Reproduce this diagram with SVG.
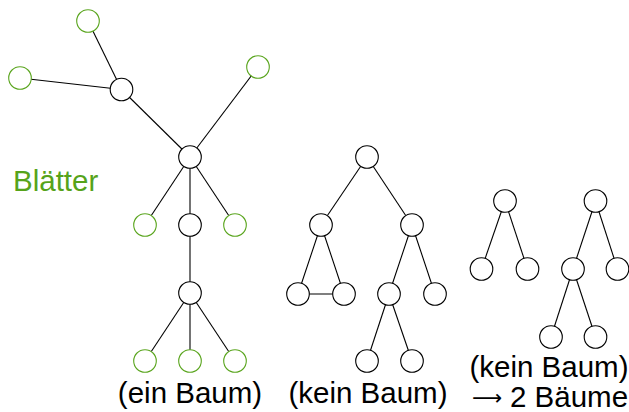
<svg xmlns="http://www.w3.org/2000/svg" width="629" height="412" viewBox="0 0 629 412">
<style>
.e{stroke:#000;stroke-width:1.1;fill:none}
.n{fill:#fff;stroke:#000;stroke-width:1.1}
.l{fill:#fff;stroke:#5aa51e;stroke-width:1.1}
.t{font-family:"Liberation Sans",Arial,sans-serif;font-size:29.5px;fill:#000}
.g{fill:#56a31a}
.a{font-family:"DejaVu Sans",sans-serif;font-size:21px}
</style>
<rect width="629" height="412" fill="#fff"/>
<g id="connectors">
<line class="e" x1="88" y1="21" x2="121.5" y2="89.5"/>
<line class="e" x1="20" y1="78" x2="121.5" y2="89.5"/>
<line class="e" x1="121.5" y1="89.5" x2="190" y2="157"/>
<line class="e" x1="258" y1="67" x2="190" y2="157"/>
<line class="e" x1="190" y1="157" x2="145" y2="225"/>
<line class="e" x1="190" y1="157" x2="190" y2="225"/>
<line class="e" x1="190" y1="157" x2="235" y2="225"/>
<line class="e" x1="190" y1="225" x2="190" y2="293"/>
<line class="e" x1="190" y1="293" x2="145" y2="361"/>
<line class="e" x1="190" y1="293" x2="190" y2="361"/>
<line class="e" x1="190" y1="293" x2="235" y2="361"/>
<line class="e" x1="367" y1="157" x2="321" y2="225"/>
<line class="e" x1="367" y1="157" x2="412" y2="225"/>
<line class="e" x1="321" y1="225" x2="298" y2="294"/>
<line class="e" x1="321" y1="225" x2="344" y2="294"/>
<line class="e" x1="298" y1="294" x2="344" y2="294"/>
<line class="e" x1="412" y1="225" x2="389" y2="294"/>
<line class="e" x1="412" y1="225" x2="435" y2="294"/>
<line class="e" x1="389" y1="294" x2="367" y2="361"/>
<line class="e" x1="389" y1="294" x2="412" y2="361"/>
<line class="e" x1="505" y1="201" x2="481.5" y2="269"/>
<line class="e" x1="505" y1="201" x2="527.5" y2="269"/>
<line class="e" x1="595.5" y1="201" x2="573" y2="269"/>
<line class="e" x1="595.5" y1="201" x2="617.5" y2="269"/>
<line class="e" x1="573" y1="269" x2="551" y2="337"/>
<line class="e" x1="573" y1="269" x2="595.5" y2="337"/>
</g>
<g id="t1-leaf-top"><circle class="l" cx="88" cy="21" r="11.3"/></g>
<g id="t1-leaf-left"><circle class="l" cx="20" cy="78" r="11.3"/></g>
<g id="t1-n1"><circle class="n" cx="121.5" cy="89.5" r="11.3"/></g>
<g id="t1-leaf-right"><circle class="l" cx="258" cy="67" r="11.3"/></g>
<g id="t1-n2"><circle class="n" cx="190" cy="157" r="11.3"/></g>
<g id="t1-leaf-a"><circle class="l" cx="145" cy="225" r="11.3"/></g>
<g id="t1-n3"><circle class="n" cx="190" cy="225" r="11.3"/></g>
<g id="t1-leaf-b"><circle class="l" cx="235" cy="225" r="11.3"/></g>
<g id="t1-n4"><circle class="n" cx="190" cy="293" r="11.3"/></g>
<g id="t1-leaf-c"><circle class="l" cx="145" cy="361" r="11.3"/></g>
<g id="t1-leaf-d"><circle class="l" cx="190" cy="361" r="11.3"/></g>
<g id="t1-leaf-e"><circle class="l" cx="235" cy="361" r="11.3"/></g>
<g id="t2-root"><circle class="n" cx="367" cy="157" r="11.3"/></g>
<g id="t2-l"><circle class="n" cx="321" cy="225" r="11.3"/></g>
<g id="t2-r"><circle class="n" cx="412" cy="225" r="11.3"/></g>
<g id="t2-ll"><circle class="n" cx="298" cy="294" r="11.3"/></g>
<g id="t2-lr"><circle class="n" cx="344" cy="294" r="11.3"/></g>
<g id="t2-rl"><circle class="n" cx="389" cy="294" r="11.3"/></g>
<g id="t2-rr"><circle class="n" cx="435" cy="294" r="11.3"/></g>
<g id="t2-rll"><circle class="n" cx="367" cy="361" r="11.3"/></g>
<g id="t2-rlr"><circle class="n" cx="412" cy="361" r="11.3"/></g>
<g id="t3-a"><circle class="n" cx="505" cy="201" r="11.3"/></g>
<g id="t3-a1"><circle class="n" cx="481.5" cy="269" r="11.3"/></g>
<g id="t3-a2"><circle class="n" cx="527.5" cy="269" r="11.3"/></g>
<g id="t3-b"><circle class="n" cx="595.5" cy="201" r="11.3"/></g>
<g id="t3-b1"><circle class="n" cx="573" cy="269" r="11.3"/></g>
<g id="t3-b2"><circle class="n" cx="617.5" cy="269" r="11.3"/></g>
<g id="t3-b11"><circle class="n" cx="551" cy="337" r="11.3"/></g>
<g id="t3-b12"><circle class="n" cx="595.5" cy="337" r="11.3"/></g>
<g id="labels">
<text class="t g" x="13" y="191">Blätter</text>
<text class="t" x="190" y="403" text-anchor="middle">(ein Baum)</text>
<text class="t" x="368" y="403" text-anchor="middle">(kein Baum)</text>
<text class="t" x="549" y="377" text-anchor="middle">(kein Baum)</text>
<text class="t" y="407"><tspan class="a" x="472" dy="-2">⟶</tspan><tspan x="510" dy="2">2 Bäume</tspan></text>
</g>
</svg>
